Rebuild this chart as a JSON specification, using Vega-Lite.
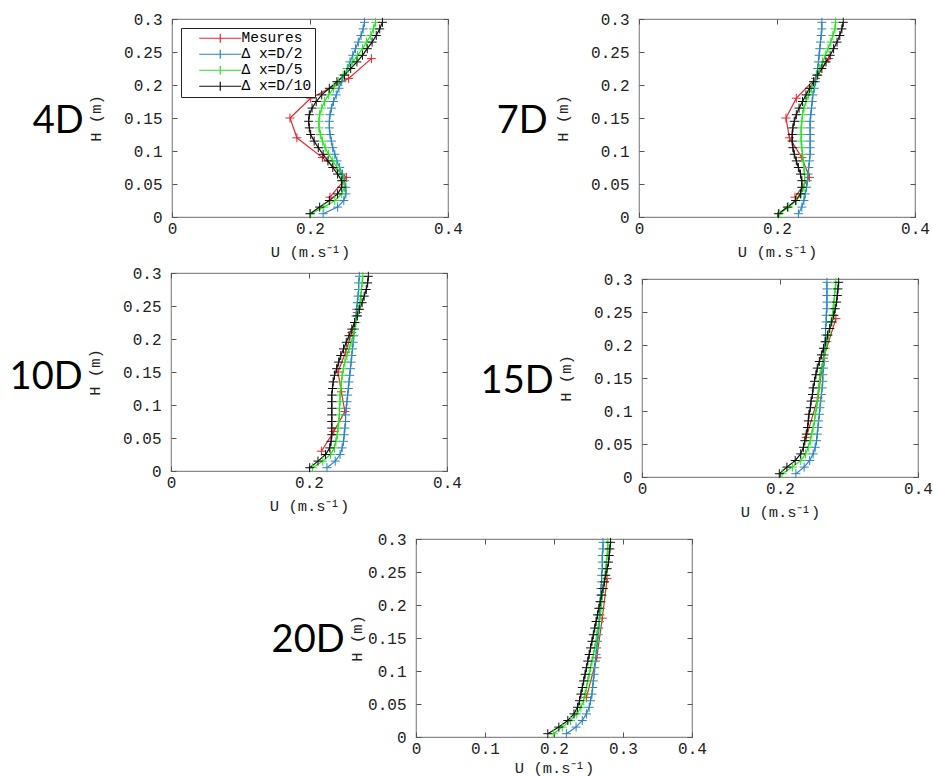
{
  "$schema": "https://vega.github.io/schema/vega-lite/v6.json",
  "padding": {"left": 2, "top": 10, "right": 0, "bottom": 0},
  "background": "white",
  "datasets": {
    "profiles": [
      {"panel":"4D","series":"Mesures","H":0.03,"U":0.229},{"panel":"4D","series":"Mesures","H":0.06,"U":0.253},{"panel":"4D","series":"Mesures","H":0.09,"U":0.218},{"panel":"4D","series":"Mesures","H":0.12,"U":0.181},{"panel":"4D","series":"Mesures","H":0.15,"U":0.171},{"panel":"4D","series":"Mesures","H":0.18,"U":0.201},{"panel":"4D","series":"Mesures","H":0.21,"U":0.256},{"panel":"4D","series":"Mesures","H":0.24,"U":0.289},
      {"panel":"4D","series":"Δ x=D/2","H":0.005,"U":0.219},{"panel":"4D","series":"Δ x=D/2","H":0.015,"U":0.240},{"panel":"4D","series":"Δ x=D/2","H":0.025,"U":0.249},{"panel":"4D","series":"Δ x=D/2","H":0.035,"U":0.252},{"panel":"4D","series":"Δ x=D/2","H":0.045,"U":0.252},{"panel":"4D","series":"Δ x=D/2","H":0.055,"U":0.250},{"panel":"4D","series":"Δ x=D/2","H":0.065,"U":0.247},{"panel":"4D","series":"Δ x=D/2","H":0.075,"U":0.243},{"panel":"4D","series":"Δ x=D/2","H":0.085,"U":0.239},{"panel":"4D","series":"Δ x=D/2","H":0.095,"U":0.236},{"panel":"4D","series":"Δ x=D/2","H":0.105,"U":0.233},{"panel":"4D","series":"Δ x=D/2","H":0.115,"U":0.231},{"panel":"4D","series":"Δ x=D/2","H":0.125,"U":0.229},{"panel":"4D","series":"Δ x=D/2","H":0.135,"U":0.228},{"panel":"4D","series":"Δ x=D/2","H":0.145,"U":0.228},{"panel":"4D","series":"Δ x=D/2","H":0.155,"U":0.229},{"panel":"4D","series":"Δ x=D/2","H":0.165,"U":0.231},{"panel":"4D","series":"Δ x=D/2","H":0.175,"U":0.234},{"panel":"4D","series":"Δ x=D/2","H":0.185,"U":0.238},{"panel":"4D","series":"Δ x=D/2","H":0.195,"U":0.242},{"panel":"4D","series":"Δ x=D/2","H":0.205,"U":0.246},{"panel":"4D","series":"Δ x=D/2","H":0.215,"U":0.250},{"panel":"4D","series":"Δ x=D/2","H":0.225,"U":0.254},{"panel":"4D","series":"Δ x=D/2","H":0.235,"U":0.258},{"panel":"4D","series":"Δ x=D/2","H":0.245,"U":0.262},{"panel":"4D","series":"Δ x=D/2","H":0.255,"U":0.266},{"panel":"4D","series":"Δ x=D/2","H":0.265,"U":0.270},{"panel":"4D","series":"Δ x=D/2","H":0.275,"U":0.274},{"panel":"4D","series":"Δ x=D/2","H":0.285,"U":0.277},{"panel":"4D","series":"Δ x=D/2","H":0.295,"U":0.279},
      {"panel":"4D","series":"Δ x=D/5","H":0.005,"U":0.201},{"panel":"4D","series":"Δ x=D/5","H":0.015,"U":0.220},{"panel":"4D","series":"Δ x=D/5","H":0.025,"U":0.236},{"panel":"4D","series":"Δ x=D/5","H":0.035,"U":0.246},{"panel":"4D","series":"Δ x=D/5","H":0.045,"U":0.250},{"panel":"4D","series":"Δ x=D/5","H":0.055,"U":0.249},{"panel":"4D","series":"Δ x=D/5","H":0.065,"U":0.245},{"panel":"4D","series":"Δ x=D/5","H":0.075,"U":0.239},{"panel":"4D","series":"Δ x=D/5","H":0.085,"U":0.233},{"panel":"4D","series":"Δ x=D/5","H":0.095,"U":0.227},{"panel":"4D","series":"Δ x=D/5","H":0.105,"U":0.222},{"panel":"4D","series":"Δ x=D/5","H":0.115,"U":0.218},{"panel":"4D","series":"Δ x=D/5","H":0.125,"U":0.215},{"panel":"4D","series":"Δ x=D/5","H":0.135,"U":0.213},{"panel":"4D","series":"Δ x=D/5","H":0.145,"U":0.213},{"panel":"4D","series":"Δ x=D/5","H":0.155,"U":0.214},{"panel":"4D","series":"Δ x=D/5","H":0.165,"U":0.217},{"panel":"4D","series":"Δ x=D/5","H":0.175,"U":0.221},{"panel":"4D","series":"Δ x=D/5","H":0.185,"U":0.227},{"panel":"4D","series":"Δ x=D/5","H":0.195,"U":0.234},{"panel":"4D","series":"Δ x=D/5","H":0.205,"U":0.241},{"panel":"4D","series":"Δ x=D/5","H":0.215,"U":0.248},{"panel":"4D","series":"Δ x=D/5","H":0.225,"U":0.255},{"panel":"4D","series":"Δ x=D/5","H":0.235,"U":0.262},{"panel":"4D","series":"Δ x=D/5","H":0.245,"U":0.269},{"panel":"4D","series":"Δ x=D/5","H":0.255,"U":0.276},{"panel":"4D","series":"Δ x=D/5","H":0.265,"U":0.282},{"panel":"4D","series":"Δ x=D/5","H":0.275,"U":0.288},{"panel":"4D","series":"Δ x=D/5","H":0.285,"U":0.292},{"panel":"4D","series":"Δ x=D/5","H":0.295,"U":0.295},
      {"panel":"4D","series":"Δ x=D/10","H":0.005,"U":0.200},{"panel":"4D","series":"Δ x=D/10","H":0.015,"U":0.214},{"panel":"4D","series":"Δ x=D/10","H":0.025,"U":0.228},{"panel":"4D","series":"Δ x=D/10","H":0.035,"U":0.240},{"panel":"4D","series":"Δ x=D/10","H":0.045,"U":0.246},{"panel":"4D","series":"Δ x=D/10","H":0.055,"U":0.246},{"panel":"4D","series":"Δ x=D/10","H":0.065,"U":0.240},{"panel":"4D","series":"Δ x=D/10","H":0.075,"U":0.233},{"panel":"4D","series":"Δ x=D/10","H":0.085,"U":0.226},{"panel":"4D","series":"Δ x=D/10","H":0.095,"U":0.219},{"panel":"4D","series":"Δ x=D/10","H":0.105,"U":0.212},{"panel":"4D","series":"Δ x=D/10","H":0.115,"U":0.206},{"panel":"4D","series":"Δ x=D/10","H":0.125,"U":0.201},{"panel":"4D","series":"Δ x=D/10","H":0.135,"U":0.199},{"panel":"4D","series":"Δ x=D/10","H":0.145,"U":0.198},{"panel":"4D","series":"Δ x=D/10","H":0.155,"U":0.199},{"panel":"4D","series":"Δ x=D/10","H":0.165,"U":0.203},{"panel":"4D","series":"Δ x=D/10","H":0.175,"U":0.209},{"panel":"4D","series":"Δ x=D/10","H":0.185,"U":0.217},{"panel":"4D","series":"Δ x=D/10","H":0.195,"U":0.228},{"panel":"4D","series":"Δ x=D/10","H":0.205,"U":0.239},{"panel":"4D","series":"Δ x=D/10","H":0.215,"U":0.250},{"panel":"4D","series":"Δ x=D/10","H":0.225,"U":0.259},{"panel":"4D","series":"Δ x=D/10","H":0.235,"U":0.268},{"panel":"4D","series":"Δ x=D/10","H":0.245,"U":0.276},{"panel":"4D","series":"Δ x=D/10","H":0.255,"U":0.283},{"panel":"4D","series":"Δ x=D/10","H":0.265,"U":0.290},{"panel":"4D","series":"Δ x=D/10","H":0.275,"U":0.296},{"panel":"4D","series":"Δ x=D/10","H":0.285,"U":0.301},{"panel":"4D","series":"Δ x=D/10","H":0.295,"U":0.305},

      {"panel":"7D","series":"Mesures","H":0.03,"U":0.226},{"panel":"7D","series":"Mesures","H":0.06,"U":0.247},{"panel":"7D","series":"Mesures","H":0.09,"U":0.236},{"panel":"7D","series":"Mesures","H":0.12,"U":0.218},{"panel":"7D","series":"Mesures","H":0.15,"U":0.213},{"panel":"7D","series":"Mesures","H":0.18,"U":0.228},{"panel":"7D","series":"Mesures","H":0.21,"U":0.256},{"panel":"7D","series":"Mesures","H":0.24,"U":0.275},
      {"panel":"7D","series":"Δ x=D/2","H":0.005,"U":0.231},{"panel":"7D","series":"Δ x=D/2","H":0.015,"U":0.236},{"panel":"7D","series":"Δ x=D/2","H":0.025,"U":0.239},{"panel":"7D","series":"Δ x=D/2","H":0.035,"U":0.241},{"panel":"7D","series":"Δ x=D/2","H":0.045,"U":0.243},{"panel":"7D","series":"Δ x=D/2","H":0.055,"U":0.244},{"panel":"7D","series":"Δ x=D/2","H":0.065,"U":0.245},{"panel":"7D","series":"Δ x=D/2","H":0.075,"U":0.246},{"panel":"7D","series":"Δ x=D/2","H":0.085,"U":0.247},{"panel":"7D","series":"Δ x=D/2","H":0.095,"U":0.248},{"panel":"7D","series":"Δ x=D/2","H":0.105,"U":0.248},{"panel":"7D","series":"Δ x=D/2","H":0.115,"U":0.248},{"panel":"7D","series":"Δ x=D/2","H":0.125,"U":0.248},{"panel":"7D","series":"Δ x=D/2","H":0.135,"U":0.248},{"panel":"7D","series":"Δ x=D/2","H":0.145,"U":0.248},{"panel":"7D","series":"Δ x=D/2","H":0.155,"U":0.249},{"panel":"7D","series":"Δ x=D/2","H":0.165,"U":0.250},{"panel":"7D","series":"Δ x=D/2","H":0.175,"U":0.251},{"panel":"7D","series":"Δ x=D/2","H":0.185,"U":0.252},{"panel":"7D","series":"Δ x=D/2","H":0.195,"U":0.254},{"panel":"7D","series":"Δ x=D/2","H":0.205,"U":0.256},{"panel":"7D","series":"Δ x=D/2","H":0.215,"U":0.257},{"panel":"7D","series":"Δ x=D/2","H":0.225,"U":0.259},{"panel":"7D","series":"Δ x=D/2","H":0.235,"U":0.260},{"panel":"7D","series":"Δ x=D/2","H":0.245,"U":0.261},{"panel":"7D","series":"Δ x=D/2","H":0.255,"U":0.262},{"panel":"7D","series":"Δ x=D/2","H":0.265,"U":0.263},{"panel":"7D","series":"Δ x=D/2","H":0.275,"U":0.264},{"panel":"7D","series":"Δ x=D/2","H":0.285,"U":0.265},{"panel":"7D","series":"Δ x=D/2","H":0.295,"U":0.265},
      {"panel":"7D","series":"Δ x=D/5","H":0.005,"U":0.204},{"panel":"7D","series":"Δ x=D/5","H":0.015,"U":0.217},{"panel":"7D","series":"Δ x=D/5","H":0.025,"U":0.228},{"panel":"7D","series":"Δ x=D/5","H":0.035,"U":0.235},{"panel":"7D","series":"Δ x=D/5","H":0.045,"U":0.239},{"panel":"7D","series":"Δ x=D/5","H":0.055,"U":0.240},{"panel":"7D","series":"Δ x=D/5","H":0.065,"U":0.240},{"panel":"7D","series":"Δ x=D/5","H":0.075,"U":0.239},{"panel":"7D","series":"Δ x=D/5","H":0.085,"U":0.238},{"panel":"7D","series":"Δ x=D/5","H":0.095,"U":0.237},{"panel":"7D","series":"Δ x=D/5","H":0.105,"U":0.236},{"panel":"7D","series":"Δ x=D/5","H":0.115,"U":0.235},{"panel":"7D","series":"Δ x=D/5","H":0.125,"U":0.235},{"panel":"7D","series":"Δ x=D/5","H":0.135,"U":0.235},{"panel":"7D","series":"Δ x=D/5","H":0.145,"U":0.236},{"panel":"7D","series":"Δ x=D/5","H":0.155,"U":0.237},{"panel":"7D","series":"Δ x=D/5","H":0.165,"U":0.239},{"panel":"7D","series":"Δ x=D/5","H":0.175,"U":0.242},{"panel":"7D","series":"Δ x=D/5","H":0.185,"U":0.246},{"panel":"7D","series":"Δ x=D/5","H":0.195,"U":0.250},{"panel":"7D","series":"Δ x=D/5","H":0.205,"U":0.254},{"panel":"7D","series":"Δ x=D/5","H":0.215,"U":0.258},{"panel":"7D","series":"Δ x=D/5","H":0.225,"U":0.262},{"panel":"7D","series":"Δ x=D/5","H":0.235,"U":0.266},{"panel":"7D","series":"Δ x=D/5","H":0.245,"U":0.270},{"panel":"7D","series":"Δ x=D/5","H":0.255,"U":0.274},{"panel":"7D","series":"Δ x=D/5","H":0.265,"U":0.278},{"panel":"7D","series":"Δ x=D/5","H":0.275,"U":0.281},{"panel":"7D","series":"Δ x=D/5","H":0.285,"U":0.284},{"panel":"7D","series":"Δ x=D/5","H":0.295,"U":0.285},
      {"panel":"7D","series":"Δ x=D/10","H":0.005,"U":0.202},{"panel":"7D","series":"Δ x=D/10","H":0.015,"U":0.215},{"panel":"7D","series":"Δ x=D/10","H":0.025,"U":0.227},{"panel":"7D","series":"Δ x=D/10","H":0.035,"U":0.234},{"panel":"7D","series":"Δ x=D/10","H":0.045,"U":0.236},{"panel":"7D","series":"Δ x=D/10","H":0.055,"U":0.236},{"panel":"7D","series":"Δ x=D/10","H":0.065,"U":0.234},{"panel":"7D","series":"Δ x=D/10","H":0.075,"U":0.231},{"panel":"7D","series":"Δ x=D/10","H":0.085,"U":0.228},{"panel":"7D","series":"Δ x=D/10","H":0.095,"U":0.225},{"panel":"7D","series":"Δ x=D/10","H":0.105,"U":0.223},{"panel":"7D","series":"Δ x=D/10","H":0.115,"U":0.222},{"panel":"7D","series":"Δ x=D/10","H":0.125,"U":0.222},{"panel":"7D","series":"Δ x=D/10","H":0.135,"U":0.223},{"panel":"7D","series":"Δ x=D/10","H":0.145,"U":0.225},{"panel":"7D","series":"Δ x=D/10","H":0.155,"U":0.228},{"panel":"7D","series":"Δ x=D/10","H":0.165,"U":0.232},{"panel":"7D","series":"Δ x=D/10","H":0.175,"U":0.237},{"panel":"7D","series":"Δ x=D/10","H":0.185,"U":0.242},{"panel":"7D","series":"Δ x=D/10","H":0.195,"U":0.247},{"panel":"7D","series":"Δ x=D/10","H":0.205,"U":0.253},{"panel":"7D","series":"Δ x=D/10","H":0.215,"U":0.259},{"panel":"7D","series":"Δ x=D/10","H":0.225,"U":0.265},{"panel":"7D","series":"Δ x=D/10","H":0.235,"U":0.271},{"panel":"7D","series":"Δ x=D/10","H":0.245,"U":0.277},{"panel":"7D","series":"Δ x=D/10","H":0.255,"U":0.282},{"panel":"7D","series":"Δ x=D/10","H":0.265,"U":0.287},{"panel":"7D","series":"Δ x=D/10","H":0.275,"U":0.291},{"panel":"7D","series":"Δ x=D/10","H":0.285,"U":0.294},{"panel":"7D","series":"Δ x=D/10","H":0.295,"U":0.296},

      {"panel":"10D","series":"Mesures","H":0.03,"U":0.218},{"panel":"10D","series":"Mesures","H":0.06,"U":0.236},{"panel":"10D","series":"Mesures","H":0.09,"U":0.252},{"panel":"10D","series":"Mesures","H":0.12,"U":0.247},{"panel":"10D","series":"Mesures","H":0.15,"U":0.242},{"panel":"10D","series":"Mesures","H":0.18,"U":0.253},{"panel":"10D","series":"Mesures","H":0.21,"U":0.262},{"panel":"10D","series":"Mesures","H":0.24,"U":0.270},
      {"panel":"10D","series":"Δ x=D/2","H":0.005,"U":0.226},{"panel":"10D","series":"Δ x=D/2","H":0.015,"U":0.238},{"panel":"10D","series":"Δ x=D/2","H":0.025,"U":0.245},{"panel":"10D","series":"Δ x=D/2","H":0.035,"U":0.248},{"panel":"10D","series":"Δ x=D/2","H":0.045,"U":0.250},{"panel":"10D","series":"Δ x=D/2","H":0.055,"U":0.251},{"panel":"10D","series":"Δ x=D/2","H":0.065,"U":0.252},{"panel":"10D","series":"Δ x=D/2","H":0.075,"U":0.253},{"panel":"10D","series":"Δ x=D/2","H":0.085,"U":0.253},{"panel":"10D","series":"Δ x=D/2","H":0.095,"U":0.254},{"panel":"10D","series":"Δ x=D/2","H":0.105,"U":0.255},{"panel":"10D","series":"Δ x=D/2","H":0.115,"U":0.256},{"panel":"10D","series":"Δ x=D/2","H":0.125,"U":0.257},{"panel":"10D","series":"Δ x=D/2","H":0.135,"U":0.258},{"panel":"10D","series":"Δ x=D/2","H":0.145,"U":0.259},{"panel":"10D","series":"Δ x=D/2","H":0.155,"U":0.260},{"panel":"10D","series":"Δ x=D/2","H":0.165,"U":0.261},{"panel":"10D","series":"Δ x=D/2","H":0.175,"U":0.262},{"panel":"10D","series":"Δ x=D/2","H":0.185,"U":0.263},{"panel":"10D","series":"Δ x=D/2","H":0.195,"U":0.264},{"panel":"10D","series":"Δ x=D/2","H":0.205,"U":0.265},{"panel":"10D","series":"Δ x=D/2","H":0.215,"U":0.266},{"panel":"10D","series":"Δ x=D/2","H":0.225,"U":0.267},{"panel":"10D","series":"Δ x=D/2","H":0.235,"U":0.268},{"panel":"10D","series":"Δ x=D/2","H":0.245,"U":0.269},{"panel":"10D","series":"Δ x=D/2","H":0.255,"U":0.270},{"panel":"10D","series":"Δ x=D/2","H":0.265,"U":0.271},{"panel":"10D","series":"Δ x=D/2","H":0.275,"U":0.272},{"panel":"10D","series":"Δ x=D/2","H":0.285,"U":0.272},{"panel":"10D","series":"Δ x=D/2","H":0.295,"U":0.273},
      {"panel":"10D","series":"Δ x=D/5","H":0.005,"U":0.205},{"panel":"10D","series":"Δ x=D/5","H":0.015,"U":0.220},{"panel":"10D","series":"Δ x=D/5","H":0.025,"U":0.231},{"panel":"10D","series":"Δ x=D/5","H":0.035,"U":0.237},{"panel":"10D","series":"Δ x=D/5","H":0.045,"U":0.239},{"panel":"10D","series":"Δ x=D/5","H":0.055,"U":0.241},{"panel":"10D","series":"Δ x=D/5","H":0.065,"U":0.242},{"panel":"10D","series":"Δ x=D/5","H":0.075,"U":0.243},{"panel":"10D","series":"Δ x=D/5","H":0.085,"U":0.244},{"panel":"10D","series":"Δ x=D/5","H":0.095,"U":0.244},{"panel":"10D","series":"Δ x=D/5","H":0.105,"U":0.245},{"panel":"10D","series":"Δ x=D/5","H":0.115,"U":0.245},{"panel":"10D","series":"Δ x=D/5","H":0.125,"U":0.246},{"panel":"10D","series":"Δ x=D/5","H":0.135,"U":0.247},{"panel":"10D","series":"Δ x=D/5","H":0.145,"U":0.248},{"panel":"10D","series":"Δ x=D/5","H":0.155,"U":0.250},{"panel":"10D","series":"Δ x=D/5","H":0.165,"U":0.252},{"panel":"10D","series":"Δ x=D/5","H":0.175,"U":0.255},{"panel":"10D","series":"Δ x=D/5","H":0.185,"U":0.258},{"panel":"10D","series":"Δ x=D/5","H":0.195,"U":0.261},{"panel":"10D","series":"Δ x=D/5","H":0.205,"U":0.264},{"panel":"10D","series":"Δ x=D/5","H":0.215,"U":0.266},{"panel":"10D","series":"Δ x=D/5","H":0.225,"U":0.268},{"panel":"10D","series":"Δ x=D/5","H":0.235,"U":0.270},{"panel":"10D","series":"Δ x=D/5","H":0.245,"U":0.272},{"panel":"10D","series":"Δ x=D/5","H":0.255,"U":0.274},{"panel":"10D","series":"Δ x=D/5","H":0.265,"U":0.275},{"panel":"10D","series":"Δ x=D/5","H":0.275,"U":0.276},{"panel":"10D","series":"Δ x=D/5","H":0.285,"U":0.277},{"panel":"10D","series":"Δ x=D/5","H":0.295,"U":0.278},
      {"panel":"10D","series":"Δ x=D/10","H":0.005,"U":0.201},{"panel":"10D","series":"Δ x=D/10","H":0.015,"U":0.213},{"panel":"10D","series":"Δ x=D/10","H":0.025,"U":0.224},{"panel":"10D","series":"Δ x=D/10","H":0.035,"U":0.230},{"panel":"10D","series":"Δ x=D/10","H":0.045,"U":0.232},{"panel":"10D","series":"Δ x=D/10","H":0.055,"U":0.233},{"panel":"10D","series":"Δ x=D/10","H":0.065,"U":0.233},{"panel":"10D","series":"Δ x=D/10","H":0.075,"U":0.233},{"panel":"10D","series":"Δ x=D/10","H":0.085,"U":0.233},{"panel":"10D","series":"Δ x=D/10","H":0.095,"U":0.233},{"panel":"10D","series":"Δ x=D/10","H":0.105,"U":0.233},{"panel":"10D","series":"Δ x=D/10","H":0.115,"U":0.233},{"panel":"10D","series":"Δ x=D/10","H":0.125,"U":0.234},{"panel":"10D","series":"Δ x=D/10","H":0.135,"U":0.235},{"panel":"10D","series":"Δ x=D/10","H":0.145,"U":0.237},{"panel":"10D","series":"Δ x=D/10","H":0.155,"U":0.240},{"panel":"10D","series":"Δ x=D/10","H":0.165,"U":0.243},{"panel":"10D","series":"Δ x=D/10","H":0.175,"U":0.246},{"panel":"10D","series":"Δ x=D/10","H":0.185,"U":0.250},{"panel":"10D","series":"Δ x=D/10","H":0.195,"U":0.254},{"panel":"10D","series":"Δ x=D/10","H":0.205,"U":0.258},{"panel":"10D","series":"Δ x=D/10","H":0.215,"U":0.262},{"panel":"10D","series":"Δ x=D/10","H":0.225,"U":0.266},{"panel":"10D","series":"Δ x=D/10","H":0.235,"U":0.270},{"panel":"10D","series":"Δ x=D/10","H":0.245,"U":0.273},{"panel":"10D","series":"Δ x=D/10","H":0.255,"U":0.277},{"panel":"10D","series":"Δ x=D/10","H":0.265,"U":0.280},{"panel":"10D","series":"Δ x=D/10","H":0.275,"U":0.283},{"panel":"10D","series":"Δ x=D/10","H":0.285,"U":0.285},{"panel":"10D","series":"Δ x=D/10","H":0.295,"U":0.286},

      {"panel":"15D","series":"Mesures","H":0.06,"U":0.238},{"panel":"15D","series":"Mesures","H":0.12,"U":0.255},{"panel":"15D","series":"Mesures","H":0.18,"U":0.263},{"panel":"15D","series":"Mesures","H":0.24,"U":0.281},
      {"panel":"15D","series":"Δ x=D/2","H":0.005,"U":0.223},{"panel":"15D","series":"Δ x=D/2","H":0.015,"U":0.235},{"panel":"15D","series":"Δ x=D/2","H":0.025,"U":0.243},{"panel":"15D","series":"Δ x=D/2","H":0.035,"U":0.248},{"panel":"15D","series":"Δ x=D/2","H":0.045,"U":0.251},{"panel":"15D","series":"Δ x=D/2","H":0.055,"U":0.253},{"panel":"15D","series":"Δ x=D/2","H":0.065,"U":0.254},{"panel":"15D","series":"Δ x=D/2","H":0.075,"U":0.255},{"panel":"15D","series":"Δ x=D/2","H":0.085,"U":0.256},{"panel":"15D","series":"Δ x=D/2","H":0.095,"U":0.257},{"panel":"15D","series":"Δ x=D/2","H":0.105,"U":0.258},{"panel":"15D","series":"Δ x=D/2","H":0.115,"U":0.259},{"panel":"15D","series":"Δ x=D/2","H":0.125,"U":0.260},{"panel":"15D","series":"Δ x=D/2","H":0.135,"U":0.261},{"panel":"15D","series":"Δ x=D/2","H":0.145,"U":0.262},{"panel":"15D","series":"Δ x=D/2","H":0.155,"U":0.262},{"panel":"15D","series":"Δ x=D/2","H":0.165,"U":0.263},{"panel":"15D","series":"Δ x=D/2","H":0.175,"U":0.264},{"panel":"15D","series":"Δ x=D/2","H":0.185,"U":0.264},{"panel":"15D","series":"Δ x=D/2","H":0.195,"U":0.265},{"panel":"15D","series":"Δ x=D/2","H":0.205,"U":0.265},{"panel":"15D","series":"Δ x=D/2","H":0.215,"U":0.266},{"panel":"15D","series":"Δ x=D/2","H":0.225,"U":0.266},{"panel":"15D","series":"Δ x=D/2","H":0.235,"U":0.267},{"panel":"15D","series":"Δ x=D/2","H":0.245,"U":0.267},{"panel":"15D","series":"Δ x=D/2","H":0.255,"U":0.268},{"panel":"15D","series":"Δ x=D/2","H":0.265,"U":0.268},{"panel":"15D","series":"Δ x=D/2","H":0.275,"U":0.268},{"panel":"15D","series":"Δ x=D/2","H":0.285,"U":0.268},{"panel":"15D","series":"Δ x=D/2","H":0.295,"U":0.268},
      {"panel":"15D","series":"Δ x=D/5","H":0.005,"U":0.203},{"panel":"15D","series":"Δ x=D/5","H":0.015,"U":0.218},{"panel":"15D","series":"Δ x=D/5","H":0.025,"U":0.230},{"panel":"15D","series":"Δ x=D/5","H":0.035,"U":0.237},{"panel":"15D","series":"Δ x=D/5","H":0.045,"U":0.241},{"panel":"15D","series":"Δ x=D/5","H":0.055,"U":0.244},{"panel":"15D","series":"Δ x=D/5","H":0.065,"U":0.246},{"panel":"15D","series":"Δ x=D/5","H":0.075,"U":0.248},{"panel":"15D","series":"Δ x=D/5","H":0.085,"U":0.250},{"panel":"15D","series":"Δ x=D/5","H":0.095,"U":0.251},{"panel":"15D","series":"Δ x=D/5","H":0.105,"U":0.253},{"panel":"15D","series":"Δ x=D/5","H":0.115,"U":0.254},{"panel":"15D","series":"Δ x=D/5","H":0.125,"U":0.255},{"panel":"15D","series":"Δ x=D/5","H":0.135,"U":0.256},{"panel":"15D","series":"Δ x=D/5","H":0.145,"U":0.257},{"panel":"15D","series":"Δ x=D/5","H":0.155,"U":0.258},{"panel":"15D","series":"Δ x=D/5","H":0.165,"U":0.260},{"panel":"15D","series":"Δ x=D/5","H":0.175,"U":0.262},{"panel":"15D","series":"Δ x=D/5","H":0.185,"U":0.264},{"panel":"15D","series":"Δ x=D/5","H":0.195,"U":0.266},{"panel":"15D","series":"Δ x=D/5","H":0.205,"U":0.268},{"panel":"15D","series":"Δ x=D/5","H":0.215,"U":0.270},{"panel":"15D","series":"Δ x=D/5","H":0.225,"U":0.272},{"panel":"15D","series":"Δ x=D/5","H":0.235,"U":0.274},{"panel":"15D","series":"Δ x=D/5","H":0.245,"U":0.276},{"panel":"15D","series":"Δ x=D/5","H":0.255,"U":0.277},{"panel":"15D","series":"Δ x=D/5","H":0.265,"U":0.278},{"panel":"15D","series":"Δ x=D/5","H":0.275,"U":0.279},{"panel":"15D","series":"Δ x=D/5","H":0.285,"U":0.280},{"panel":"15D","series":"Δ x=D/5","H":0.295,"U":0.281},
      {"panel":"15D","series":"Δ x=D/10","H":0.005,"U":0.199},{"panel":"15D","series":"Δ x=D/10","H":0.015,"U":0.210},{"panel":"15D","series":"Δ x=D/10","H":0.025,"U":0.222},{"panel":"15D","series":"Δ x=D/10","H":0.035,"U":0.230},{"panel":"15D","series":"Δ x=D/10","H":0.045,"U":0.234},{"panel":"15D","series":"Δ x=D/10","H":0.055,"U":0.236},{"panel":"15D","series":"Δ x=D/10","H":0.065,"U":0.238},{"panel":"15D","series":"Δ x=D/10","H":0.075,"U":0.240},{"panel":"15D","series":"Δ x=D/10","H":0.085,"U":0.241},{"panel":"15D","series":"Δ x=D/10","H":0.095,"U":0.242},{"panel":"15D","series":"Δ x=D/10","H":0.105,"U":0.244},{"panel":"15D","series":"Δ x=D/10","H":0.115,"U":0.245},{"panel":"15D","series":"Δ x=D/10","H":0.125,"U":0.247},{"panel":"15D","series":"Δ x=D/10","H":0.135,"U":0.248},{"panel":"15D","series":"Δ x=D/10","H":0.145,"U":0.250},{"panel":"15D","series":"Δ x=D/10","H":0.155,"U":0.252},{"panel":"15D","series":"Δ x=D/10","H":0.165,"U":0.254},{"panel":"15D","series":"Δ x=D/10","H":0.175,"U":0.257},{"panel":"15D","series":"Δ x=D/10","H":0.185,"U":0.260},{"panel":"15D","series":"Δ x=D/10","H":0.195,"U":0.263},{"panel":"15D","series":"Δ x=D/10","H":0.205,"U":0.266},{"panel":"15D","series":"Δ x=D/10","H":0.215,"U":0.269},{"panel":"15D","series":"Δ x=D/10","H":0.225,"U":0.272},{"panel":"15D","series":"Δ x=D/10","H":0.235,"U":0.275},{"panel":"15D","series":"Δ x=D/10","H":0.245,"U":0.278},{"panel":"15D","series":"Δ x=D/10","H":0.255,"U":0.280},{"panel":"15D","series":"Δ x=D/10","H":0.265,"U":0.282},{"panel":"15D","series":"Δ x=D/10","H":0.275,"U":0.283},{"panel":"15D","series":"Δ x=D/10","H":0.285,"U":0.284},{"panel":"15D","series":"Δ x=D/10","H":0.295,"U":0.285},

      {"panel":"20D","series":"Mesures","H":0.06,"U":0.247},{"panel":"20D","series":"Mesures","H":0.12,"U":0.262},{"panel":"20D","series":"Mesures","H":0.18,"U":0.270},{"panel":"20D","series":"Mesures","H":0.24,"U":0.277},
      {"panel":"20D","series":"Δ x=D/2","H":0.005,"U":0.218},{"panel":"20D","series":"Δ x=D/2","H":0.015,"U":0.232},{"panel":"20D","series":"Δ x=D/2","H":0.025,"U":0.241},{"panel":"20D","series":"Δ x=D/2","H":0.035,"U":0.247},{"panel":"20D","series":"Δ x=D/2","H":0.045,"U":0.251},{"panel":"20D","series":"Δ x=D/2","H":0.055,"U":0.253},{"panel":"20D","series":"Δ x=D/2","H":0.065,"U":0.255},{"panel":"20D","series":"Δ x=D/2","H":0.075,"U":0.256},{"panel":"20D","series":"Δ x=D/2","H":0.085,"U":0.257},{"panel":"20D","series":"Δ x=D/2","H":0.095,"U":0.258},{"panel":"20D","series":"Δ x=D/2","H":0.105,"U":0.259},{"panel":"20D","series":"Δ x=D/2","H":0.115,"U":0.260},{"panel":"20D","series":"Δ x=D/2","H":0.125,"U":0.261},{"panel":"20D","series":"Δ x=D/2","H":0.135,"U":0.262},{"panel":"20D","series":"Δ x=D/2","H":0.145,"U":0.263},{"panel":"20D","series":"Δ x=D/2","H":0.155,"U":0.264},{"panel":"20D","series":"Δ x=D/2","H":0.165,"U":0.265},{"panel":"20D","series":"Δ x=D/2","H":0.175,"U":0.266},{"panel":"20D","series":"Δ x=D/2","H":0.185,"U":0.266},{"panel":"20D","series":"Δ x=D/2","H":0.195,"U":0.267},{"panel":"20D","series":"Δ x=D/2","H":0.205,"U":0.267},{"panel":"20D","series":"Δ x=D/2","H":0.215,"U":0.268},{"panel":"20D","series":"Δ x=D/2","H":0.225,"U":0.268},{"panel":"20D","series":"Δ x=D/2","H":0.235,"U":0.269},{"panel":"20D","series":"Δ x=D/2","H":0.245,"U":0.269},{"panel":"20D","series":"Δ x=D/2","H":0.255,"U":0.270},{"panel":"20D","series":"Δ x=D/2","H":0.265,"U":0.270},{"panel":"20D","series":"Δ x=D/2","H":0.275,"U":0.270},{"panel":"20D","series":"Δ x=D/2","H":0.285,"U":0.271},{"panel":"20D","series":"Δ x=D/2","H":0.295,"U":0.271},
      {"panel":"20D","series":"Δ x=D/5","H":0.005,"U":0.199},{"panel":"20D","series":"Δ x=D/5","H":0.015,"U":0.212},{"panel":"20D","series":"Δ x=D/5","H":0.025,"U":0.224},{"panel":"20D","series":"Δ x=D/5","H":0.035,"U":0.233},{"panel":"20D","series":"Δ x=D/5","H":0.045,"U":0.239},{"panel":"20D","series":"Δ x=D/5","H":0.055,"U":0.243},{"panel":"20D","series":"Δ x=D/5","H":0.065,"U":0.245},{"panel":"20D","series":"Δ x=D/5","H":0.075,"U":0.247},{"panel":"20D","series":"Δ x=D/5","H":0.085,"U":0.249},{"panel":"20D","series":"Δ x=D/5","H":0.095,"U":0.251},{"panel":"20D","series":"Δ x=D/5","H":0.105,"U":0.253},{"panel":"20D","series":"Δ x=D/5","H":0.115,"U":0.255},{"panel":"20D","series":"Δ x=D/5","H":0.125,"U":0.257},{"panel":"20D","series":"Δ x=D/5","H":0.135,"U":0.259},{"panel":"20D","series":"Δ x=D/5","H":0.145,"U":0.261},{"panel":"20D","series":"Δ x=D/5","H":0.155,"U":0.262},{"panel":"20D","series":"Δ x=D/5","H":0.165,"U":0.264},{"panel":"20D","series":"Δ x=D/5","H":0.175,"U":0.265},{"panel":"20D","series":"Δ x=D/5","H":0.185,"U":0.267},{"panel":"20D","series":"Δ x=D/5","H":0.195,"U":0.268},{"panel":"20D","series":"Δ x=D/5","H":0.205,"U":0.269},{"panel":"20D","series":"Δ x=D/5","H":0.215,"U":0.270},{"panel":"20D","series":"Δ x=D/5","H":0.225,"U":0.272},{"panel":"20D","series":"Δ x=D/5","H":0.235,"U":0.273},{"panel":"20D","series":"Δ x=D/5","H":0.245,"U":0.274},{"panel":"20D","series":"Δ x=D/5","H":0.255,"U":0.275},{"panel":"20D","series":"Δ x=D/5","H":0.265,"U":0.276},{"panel":"20D","series":"Δ x=D/5","H":0.275,"U":0.277},{"panel":"20D","series":"Δ x=D/5","H":0.285,"U":0.278},{"panel":"20D","series":"Δ x=D/5","H":0.295,"U":0.278},
      {"panel":"20D","series":"Δ x=D/10","H":0.005,"U":0.191},{"panel":"20D","series":"Δ x=D/10","H":0.015,"U":0.207},{"panel":"20D","series":"Δ x=D/10","H":0.025,"U":0.220},{"panel":"20D","series":"Δ x=D/10","H":0.035,"U":0.229},{"panel":"20D","series":"Δ x=D/10","H":0.045,"U":0.234},{"panel":"20D","series":"Δ x=D/10","H":0.055,"U":0.237},{"panel":"20D","series":"Δ x=D/10","H":0.065,"U":0.239},{"panel":"20D","series":"Δ x=D/10","H":0.075,"U":0.241},{"panel":"20D","series":"Δ x=D/10","H":0.085,"U":0.243},{"panel":"20D","series":"Δ x=D/10","H":0.095,"U":0.245},{"panel":"20D","series":"Δ x=D/10","H":0.105,"U":0.247},{"panel":"20D","series":"Δ x=D/10","H":0.115,"U":0.249},{"panel":"20D","series":"Δ x=D/10","H":0.125,"U":0.251},{"panel":"20D","series":"Δ x=D/10","H":0.135,"U":0.253},{"panel":"20D","series":"Δ x=D/10","H":0.145,"U":0.255},{"panel":"20D","series":"Δ x=D/10","H":0.155,"U":0.257},{"panel":"20D","series":"Δ x=D/10","H":0.165,"U":0.259},{"panel":"20D","series":"Δ x=D/10","H":0.175,"U":0.261},{"panel":"20D","series":"Δ x=D/10","H":0.185,"U":0.263},{"panel":"20D","series":"Δ x=D/10","H":0.195,"U":0.265},{"panel":"20D","series":"Δ x=D/10","H":0.205,"U":0.267},{"panel":"20D","series":"Δ x=D/10","H":0.215,"U":0.269},{"panel":"20D","series":"Δ x=D/10","H":0.225,"U":0.271},{"panel":"20D","series":"Δ x=D/10","H":0.235,"U":0.273},{"panel":"20D","series":"Δ x=D/10","H":0.245,"U":0.275},{"panel":"20D","series":"Δ x=D/10","H":0.255,"U":0.277},{"panel":"20D","series":"Δ x=D/10","H":0.265,"U":0.279},{"panel":"20D","series":"Δ x=D/10","H":0.275,"U":0.280},{"panel":"20D","series":"Δ x=D/10","H":0.285,"U":0.281},{"panel":"20D","series":"Δ x=D/10","H":0.295,"U":0.282}
    ]
  },
  "data": {"name": "profiles"},
  "spacing": 0,
  "resolve": {"scale": {"color": "independent"}, "legend": {"color": "independent"}},
  "vconcat": [
    {
      "spacing": 0, "bounds": "flush",
      "resolve": {"scale": {"color": "independent"}, "legend": {"color": "independent"}},
      "hconcat": [
        {"width": 170, "height": 245, "data": {"values": []}, "mark": {"type": "point", "opacity": 0}, "view": {"stroke": null}},
        {
          "width": 276, "height": 198,
          "title": {"text": "4D", "orient": "left", "angle": 0, "align": "left", "baseline": "middle", "anchor": "middle", "font": "Lato", "fontSize": 38, "fontWeight": "normal", "color": "#000000", "offset": 5, "dy": 4},
          "transform": [{"filter": "datum.panel === '4D'"}],
          "layer": [
            {"mark": {"type": "line", "strokeWidth": 1.2},
             "encoding": {
               "x": {"field": "U", "type": "quantitative", "scale": {"domain": [0, 0.4], "nice": false, "zero": false}, "axis": {"values": [0, 0.2, 0.4], "format": ".1~f", "title": "U (m.s⁻¹)", "labelPadding": 8, "titlePadding": 8}},
               "y": {"field": "H", "type": "quantitative", "scale": {"domain": [0, 0.3], "nice": false}, "axis": {"values": [0, 0.05, 0.1, 0.15, 0.2, 0.25, 0.3], "format": ".2~f", "title": "H (m)", "labelPadding": 15, "titlePadding": 20}},
               "color": {"field": "series", "type": "nominal", "scale": {"domain": ["Mesures", "Δ x=D/2", "Δ x=D/5", "Δ x=D/10"], "range": ["#e8262b", "#2c84c6", "#2be02b", "#111111"]},
                 "legend": {"orient": "top-left", "offset": 9, "title": null, "padding": 3, "rowPadding": 0, "strokeColor": "#222222", "fillColor": "#ffffff", "labelFont": "Liberation Mono", "labelFontSize": 14.5, "labelColor": "#000000", "symbolType": "M-3.5,0H3.5M0,-0.75V0.75", "symbolSize": 144, "symbolStrokeWidth": 1.2, "symbolOffset": 29, "labelOffset": 14, "cornerRadius": 0}},
               "order": {"field": "H", "type": "quantitative"}
             }},
            {"mark": {"type": "point", "shape": "M-1,0H1M0,-1V1", "filled": false, "size": 81, "strokeWidth": 1, "opacity": 1},
             "encoding": {
               "x": {"field": "U", "type": "quantitative", "axis": null},
               "y": {"field": "H", "type": "quantitative", "axis": null},
               "color": {"field": "series", "type": "nominal", "legend": null}
             }},
            {"mark": {"type": "point", "opacity": 0},
             "encoding": {
               "x": {"field": "U", "type": "quantitative", "axis": {"orient": "top", "values": [0, 0.2, 0.4], "labels": false, "title": null}},
               "y": {"field": "H", "type": "quantitative", "axis": {"orient": "right", "values": [0, 0.05, 0.1, 0.15, 0.2, 0.25, 0.3], "labels": false, "title": null}}
             }}
          ],
          "resolve": {"axis": {"x": "independent", "y": "independent"}}
        },
        {"width": 191, "height": 10, "data": {"values": []}, "mark": {"type": "point", "opacity": 0}, "view": {"stroke": null}},
        {
          "width": 276, "height": 198,
          "title": {"text": "7D", "orient": "left", "angle": 0, "align": "left", "baseline": "middle", "anchor": "middle", "font": "Lato", "fontSize": 38, "fontWeight": "normal", "color": "#000000", "offset": 8, "dy": 4},
          "transform": [{"filter": "datum.panel === '7D'"}],
          "layer": [
            {"mark": {"type": "line", "strokeWidth": 1.2},
             "encoding": {
               "x": {"field": "U", "type": "quantitative", "scale": {"domain": [0, 0.4], "nice": false, "zero": false}, "axis": {"values": [0, 0.2, 0.4], "format": ".1~f", "title": "U (m.s⁻¹)", "labelPadding": 8, "titlePadding": 8}},
               "y": {"field": "H", "type": "quantitative", "scale": {"domain": [0, 0.3], "nice": false}, "axis": {"values": [0, 0.05, 0.1, 0.15, 0.2, 0.25, 0.3], "format": ".2~f", "title": "H (m)", "labelPadding": 15, "titlePadding": 20}},
               "color": {"field": "series", "type": "nominal", "scale": {"domain": ["Mesures", "Δ x=D/2", "Δ x=D/5", "Δ x=D/10"], "range": ["#e8262b", "#2c84c6", "#2be02b", "#111111"]}, "legend": null},
               "order": {"field": "H", "type": "quantitative"}
             }},
            {"mark": {"type": "point", "shape": "M-1,0H1M0,-1V1", "filled": false, "size": 81, "strokeWidth": 1, "opacity": 1},
             "encoding": {
               "x": {"field": "U", "type": "quantitative", "axis": null},
               "y": {"field": "H", "type": "quantitative", "axis": null},
               "color": {"field": "series", "type": "nominal", "legend": null}
             }},
            {"mark": {"type": "point", "opacity": 0},
             "encoding": {
               "x": {"field": "U", "type": "quantitative", "axis": {"orient": "top", "values": [0, 0.2, 0.4], "labels": false, "title": null}},
               "y": {"field": "H", "type": "quantitative", "axis": {"orient": "right", "values": [0, 0.05, 0.1, 0.15, 0.2, 0.25, 0.3], "labels": false, "title": null}}
             }}
          ],
          "resolve": {"axis": {"x": "independent", "y": "independent"}}
        }
      ]
    },
    {
      "spacing": 0, "bounds": "flush",
      "resolve": {"scale": {"color": "independent"}, "legend": {"color": "independent"}},
      "hconcat": [
        {"width": 169, "height": 257, "data": {"values": []}, "mark": {"type": "point", "opacity": 0}, "view": {"stroke": null}},
        {
          "width": 276, "height": 198,
          "title": {"text": "10D", "orient": "left", "angle": 0, "align": "left", "baseline": "middle", "anchor": "middle", "font": "Lato", "fontSize": 38, "fontWeight": "normal", "color": "#000000", "offset": 5, "dy": 6},
          "transform": [{"filter": "datum.panel === '10D'"}],
          "layer": [
            {"mark": {"type": "line", "strokeWidth": 1.2},
             "encoding": {
               "x": {"field": "U", "type": "quantitative", "scale": {"domain": [0, 0.4], "nice": false, "zero": false}, "axis": {"values": [0, 0.2, 0.4], "format": ".1~f", "title": "U (m.s⁻¹)", "labelPadding": 8, "titlePadding": 8}},
               "y": {"field": "H", "type": "quantitative", "scale": {"domain": [0, 0.3], "nice": false}, "axis": {"values": [0, 0.05, 0.1, 0.15, 0.2, 0.25, 0.3], "format": ".2~f", "title": "H (m)", "labelPadding": 15, "titlePadding": 20}},
               "color": {"field": "series", "type": "nominal", "scale": {"domain": ["Mesures", "Δ x=D/2", "Δ x=D/5", "Δ x=D/10"], "range": ["#e8262b", "#2c84c6", "#2be02b", "#111111"]}, "legend": null},
               "order": {"field": "H", "type": "quantitative"}
             }},
            {"mark": {"type": "point", "shape": "M-1,0H1M0,-1V1", "filled": false, "size": 81, "strokeWidth": 1, "opacity": 1},
             "encoding": {
               "x": {"field": "U", "type": "quantitative", "axis": null},
               "y": {"field": "H", "type": "quantitative", "axis": null},
               "color": {"field": "series", "type": "nominal", "legend": null}
             }},
            {"mark": {"type": "point", "opacity": 0},
             "encoding": {
               "x": {"field": "U", "type": "quantitative", "axis": {"orient": "top", "values": [0, 0.2, 0.4], "labels": false, "title": null}},
               "y": {"field": "H", "type": "quantitative", "axis": {"orient": "right", "values": [0, 0.05, 0.1, 0.15, 0.2, 0.25, 0.3], "labels": false, "title": null}}
             }}
          ],
          "resolve": {"axis": {"x": "independent", "y": "independent"}}
        },
        {"width": 195, "height": 10, "data": {"values": []}, "mark": {"type": "point", "opacity": 0}, "view": {"stroke": null}},
        {
          "spacing": 0, "bounds": "flush",
          "resolve": {"scale": {"color": "independent"}, "legend": {"color": "independent"}},
          "vconcat": [
            {"width": 1, "height": 6, "data": {"values": []}, "mark": {"type": "point", "opacity": 0}, "view": {"stroke": null}},
            {
              "width": 276, "height": 198,
              "title": {"text": "15D", "orient": "left", "angle": 0, "align": "left", "baseline": "middle", "anchor": "middle", "font": "Lato", "fontSize": 38, "fontWeight": "normal", "color": "#000000", "offset": 5, "dy": 4},
              "transform": [{"filter": "datum.panel === '15D'"}],
              "layer": [
                {"mark": {"type": "line", "strokeWidth": 1.2},
                 "encoding": {
                   "x": {"field": "U", "type": "quantitative", "scale": {"domain": [0, 0.4], "nice": false, "zero": false}, "axis": {"values": [0, 0.2, 0.4], "format": ".1~f", "title": "U (m.s⁻¹)", "labelPadding": 8, "titlePadding": 8}},
                   "y": {"field": "H", "type": "quantitative", "scale": {"domain": [0, 0.3], "nice": false}, "axis": {"values": [0, 0.05, 0.1, 0.15, 0.2, 0.25, 0.3], "format": ".2~f", "title": "H (m)", "labelPadding": 15, "titlePadding": 20}},
                   "color": {"field": "series", "type": "nominal", "scale": {"domain": ["Mesures", "Δ x=D/2", "Δ x=D/5", "Δ x=D/10"], "range": ["#e8262b", "#2c84c6", "#2be02b", "#111111"]}, "legend": null},
                   "order": {"field": "H", "type": "quantitative"}
                 }},
                {"mark": {"type": "point", "shape": "M-1,0H1M0,-1V1", "filled": false, "size": 81, "strokeWidth": 1, "opacity": 1},
                 "encoding": {
                   "x": {"field": "U", "type": "quantitative", "axis": null},
                   "y": {"field": "H", "type": "quantitative", "axis": null},
                   "color": {"field": "series", "type": "nominal", "legend": null}
                 }},
                {"mark": {"type": "point", "opacity": 0},
                 "encoding": {
                   "x": {"field": "U", "type": "quantitative", "axis": {"orient": "top", "values": [0, 0.2, 0.4], "labels": false, "title": null}},
                   "y": {"field": "H", "type": "quantitative", "axis": {"orient": "right", "values": [0, 0.05, 0.1, 0.15, 0.2, 0.25, 0.3], "labels": false, "title": null}}
                 }}
              ],
              "resolve": {"axis": {"x": "independent", "y": "independent"}}
            }
          ]
        }
      ]
    },
    {
      "spacing": 0, "bounds": "flush",
      "resolve": {"scale": {"color": "independent"}, "legend": {"color": "independent"}},
      "hconcat": [
        {"width": 414, "height": 10, "data": {"values": []}, "mark": {"type": "point", "opacity": 0}, "view": {"stroke": null}},
        {
          "width": 276, "height": 198,
          "title": {"text": "20D", "orient": "left", "angle": 0, "align": "left", "baseline": "middle", "anchor": "middle", "font": "Lato", "fontSize": 38, "fontWeight": "normal", "color": "#000000", "offset": 5, "dy": 3},
          "transform": [{"filter": "datum.panel === '20D'"}],
          "layer": [
            {"mark": {"type": "line", "strokeWidth": 1.2},
             "encoding": {
               "x": {"field": "U", "type": "quantitative", "scale": {"domain": [0, 0.4], "nice": false, "zero": false}, "axis": {"values": [0, 0.1, 0.2, 0.3, 0.4], "format": ".1~f", "title": "U (m.s⁻¹)", "labelPadding": 8, "titlePadding": 4}},
               "y": {"field": "H", "type": "quantitative", "scale": {"domain": [0, 0.3], "nice": false}, "axis": {"values": [0, 0.05, 0.1, 0.15, 0.2, 0.25, 0.3], "format": ".2~f", "title": "H (m)", "labelPadding": 15, "titlePadding": 3}},
               "color": {"field": "series", "type": "nominal", "scale": {"domain": ["Mesures", "Δ x=D/2", "Δ x=D/5", "Δ x=D/10"], "range": ["#e8262b", "#2c84c6", "#2be02b", "#111111"]}, "legend": null},
               "order": {"field": "H", "type": "quantitative"}
             }},
            {"mark": {"type": "point", "shape": "M-1,0H1M0,-1V1", "filled": false, "size": 81, "strokeWidth": 1, "opacity": 1},
             "encoding": {
               "x": {"field": "U", "type": "quantitative", "axis": null},
               "y": {"field": "H", "type": "quantitative", "axis": null},
               "color": {"field": "series", "type": "nominal", "legend": null}
             }},
            {"mark": {"type": "point", "opacity": 0},
             "encoding": {
               "x": {"field": "U", "type": "quantitative", "axis": {"orient": "top", "values": [0, 0.1, 0.2, 0.3, 0.4], "labels": false, "title": null}},
               "y": {"field": "H", "type": "quantitative", "axis": {"orient": "right", "values": [0, 0.05, 0.1, 0.15, 0.2, 0.25, 0.3], "labels": false, "title": null}}
             }}
          ],
          "resolve": {"axis": {"x": "independent", "y": "independent"}}
        }
      ]
    }
  ],
  "config": {
    "view": {"stroke": "#8a8a8a", "strokeWidth": 1.2},
    "axis": {"domain": false, "grid": false, "tickSize": -5, "tickColor": "#555555", "tickWidth": 1, "labelFont": "Liberation Mono", "labelFontSize": 16, "labelColor": "#222222", "titleFont": "Liberation Mono", "titleFontSize": 15.5, "titleFontWeight": "normal", "titleColor": "#222222", "labelFlush": false, "labelOverlap": false}
  }
}
